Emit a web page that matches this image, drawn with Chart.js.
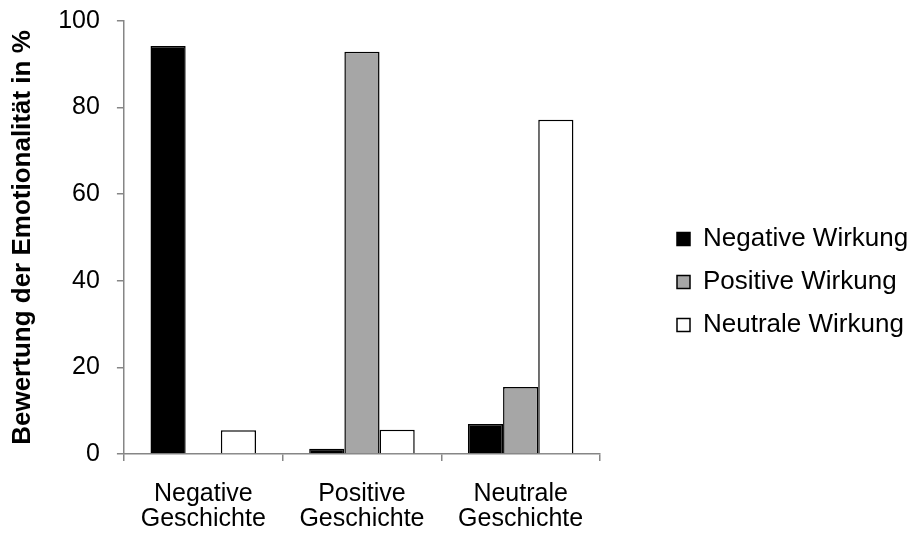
<!DOCTYPE html>
<html>
<head>
<meta charset="utf-8">
<script src="https://cdn.jsdelivr.net/npm/chart.js@4"></script>
<style>
  html, body { margin: 0; padding: 0; background: #fff; }
  #chart { display: block; }
</style>
</head>
<body>
<canvas id="chart" width="908" height="535"></canvas>
<script>
// ==================== DATA ====================
const categories = [["Negative", "Geschichte"], ["Positive", "Geschichte"], ["Neutrale", "Geschichte"]];
const negativeWirkung = [94.2, 1.2, 6.9];
const positiveWirkung = [0, 92.9, 15.5];
const neutraleWirkung = [5.5, 5.6, 77.2];
const yTicks = [0, 20, 40, 60, 80, 100];

const FONT = "'Liberation Sans', Arial, sans-serif";
const AXIS_GREY = '#868686';

Chart.defaults.font.family = FONT;
Chart.defaults.color = '#000';

function series(label, data, fill) {
    return {
        label: label,
        data: data,
        backgroundColor: fill,
        borderColor: '#000',
        borderWidth: 1.5,
        categoryPercentage: 0.665,
        barPercentage: 1.0
    };
}

// legend sits in a wide right-hand column, items pushed towards the right edge
const LEGEND_COLUMN = 308;
const LEGEND_LEFT = 660;
const LEGEND_DROP = -5;
const legendPlacement = {
    id: 'legendPlacement',
    beforeLayout(chart) {
        const legend = chart.legend;
        if (legend && !legend._patched) {
            const fit = legend.fit.bind(legend);
            legend.fit = function () { fit(); this.width = LEGEND_COLUMN; };
            legend._patched = true;
        }
    },
    afterLayout(chart) {
        const legend = chart.legend;
        if (!legend) return;
        const w = legend.width;
        legend.left = LEGEND_LEFT;
        legend.right = LEGEND_LEFT + w;
        legend.top += LEGEND_DROP;
        legend.bottom += LEGEND_DROP;
    }
};

new Chart(document.getElementById('chart'), {
    type: 'bar',
    data: {
        labels: categories,
        datasets: [
            series('Negative Wirkung', negativeWirkung, '#000000'),
            series('Positive Wirkung', positiveWirkung, '#a6a6a6'),
            series('Neutrale Wirkung', neutraleWirkung, '#ffffff')
        ]
    },
    plugins: [legendPlacement],
    options: {
        responsive: false,
        animation: false,
        layout: { padding: { top: 21, right: 0, bottom: -18, left: 7 } },
        plugins: {
            tooltip: { enabled: false },
            legend: {
                position: 'right',
                labels: {
                    boxWidth: 13,
                    boxHeight: 13,
                    padding: 17,
                    font: { size: 26 },
                    color: '#000'
                }
            }
        },
        scales: {
            x: {
                grid: { display: true, drawOnChartArea: false, offset: true, color: AXIS_GREY, tickLength: 7, lineWidth: 1.5 },
                border: { color: AXIS_GREY, width: 1.5 },
                ticks: { font: { size: 25, lineHeight: 1.0 }, color: '#000', padding: 21, maxRotation: 0 }
            },
            y: {
                min: 0,
                max: 100,
                afterBuildTicks: axis => { axis.ticks = yTicks.map(v => ({ value: v })); },
                afterFit: axis => { axis.paddingTop = 0; },
                grid: { display: true, drawOnChartArea: false, color: AXIS_GREY, tickLength: 7, lineWidth: 1.5 },
                border: { color: AXIS_GREY, width: 1.5 },
                ticks: { font: { size: 25 }, color: '#000', padding: 17 },
                title: {
                    display: true,
                    text: 'Bewertung der Emotionalität in %',
                    font: { size: 26, weight: 'bold' },
                    color: '#000',
                    padding: { top: 0, bottom: 3 }
                }
            }
        }
    }
});
</script>
</body>
</html>
